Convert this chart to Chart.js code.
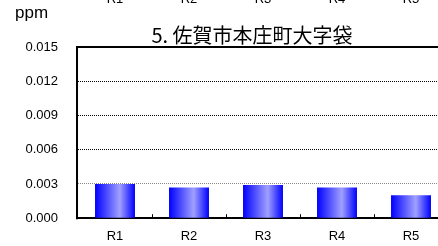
<!DOCTYPE html>
<html>
<head>
<meta charset="utf-8">
<script src="https://cdn.jsdelivr.net/npm/chart.js@4/dist/chart.umd.min.js"></script>
<style>
html,body{margin:0;padding:0;background:#fff;overflow:hidden;width:438px;height:246px;}
#wrap{position:absolute;left:0;top:-10px;width:460px;height:256px;}
</style>
</head>
<body>
<div id="wrap"><canvas id="c" width="460" height="256"></canvas></div>
<script>
const categories = ['R1', 'R2', 'R3', 'R4', 'R5'];
const values = [0.0030, 0.0027, 0.0029, 0.0027, 0.0020];
const prevChartLabels = ['R1', 'R2', 'R3', 'R4', 'R5'];
const titleText = '5. 佐賀市本庄町大字袋';
const unitText = 'ppm';
const yMin = 0, yMax = 0.015, yStep = 0.003;

const BAR_PCT = 0.54;

function barGradient(c) {
  const chart = c.chart;
  const xs = chart.scales && chart.scales.x;
  if (!xs || !chart.chartArea) return '#0000ff';
  const cx = xs.getPixelForValue(c.dataIndex);
  const cw = (xs.right - xs.left) / categories.length;
  const half = cw * BAR_PCT / 2;
  const g = chart.ctx.createLinearGradient(cx - half, 0, cx + half, 0);
  g.addColorStop(0, '#0000ff');
  g.addColorStop(0.62, '#a0a0ff');
  g.addColorStop(1, '#0000ff');
  return g;
}

const decor = {
  id: 'decor',
  afterDraw(chart) {
    const ctx = chart.ctx;
    const a = chart.chartArea;
    const xs = chart.scales.x;
    ctx.save();
    ctx.setLineDash([]);
    ctx.strokeStyle = '#000';
    ctx.lineWidth = 2;
    // top + left border
    ctx.beginPath();
    ctx.moveTo(a.right + 5, a.top);
    ctx.lineTo(a.left - 1, a.top);
    ctx.lineTo(a.left - 1, a.bottom + 1);
    ctx.stroke();
    // inner ticks at category boundaries
    ctx.lineWidth = 1;
    for (let i = 1; i < categories.length; i++) {
      const x = Math.round((xs.getPixelForValue(i - 1) + xs.getPixelForValue(i)) / 2) + 0.5;
      ctx.beginPath();
      ctx.moveTo(x, a.bottom - 4);
      ctx.lineTo(x, a.bottom);
      ctx.stroke();
    }
    // title
    ctx.fillStyle = '#000';
    ctx.textAlign = 'center';
    ctx.textBaseline = 'middle';
    ctx.font = '20px "Noto Sans CJK JP"';
    ctx.fillText(titleText, 252, 45);
    // unit
    ctx.textAlign = 'left';
    ctx.font = '17px "Liberation Sans", Arial, sans-serif';
    ctx.fillText(unitText, 15, 23);
    // clipped labels of the previous chart
    ctx.textAlign = 'center';
    ctx.textBaseline = 'alphabetic';
    ctx.font = '13px "Liberation Sans", Arial, sans-serif';
    prevChartLabels.forEach((l, i) => ctx.fillText(l, xs.getPixelForValue(i), 13));
    ctx.restore();
  }
};

new Chart(document.getElementById('c'), {
  type: 'bar',
  data: {
    labels: categories,
    datasets: [{
      data: values,
      backgroundColor: barGradient,
      borderWidth: 0,
      barPercentage: BAR_PCT,
      categoryPercentage: 1
    }]
  },
  options: {
    responsive: false,
    animation: false,
    devicePixelRatio: 1,
    layout: { padding: { top: 57, left: 0, right: 12, bottom: 0 } },
    plugins: { legend: { display: false }, title: { display: false }, tooltip: { enabled: false } },
    scales: {
      x: {
        afterFit(s) { s.height = 26; },
        grid: { display: true, drawOnChartArea: false, drawTicks: false },
        border: { display: true, color: '#000', width: 2 },
        ticks: { padding: 10, color: '#000', font: { family: '"Liberation Sans", Arial, sans-serif', size: 13 } }
      },
      y: {
        min: yMin, max: yMax,
        afterFit(s) { s.width = 78; },
        grid: {
          drawTicks: false,
          color: (c) => (c.tick && (c.tick.value === yMin || c.tick.value >= yMax - 1e-9)) ? 'rgba(0,0,0,0)' : (c.index === 1 ? '#888' : '#000'),
          lineWidth: 1
        },
        border: { display: false, dash: [1, 1] },
        ticks: {
          stepSize: yStep,
          padding: 20,
          color: '#000',
          font: { family: '"Liberation Sans", Arial, sans-serif', size: 13 },
          callback: (v) => Number(v).toFixed(3)
        }
      }
    }
  },
  plugins: [decor]
});
</script>
</body>
</html>
